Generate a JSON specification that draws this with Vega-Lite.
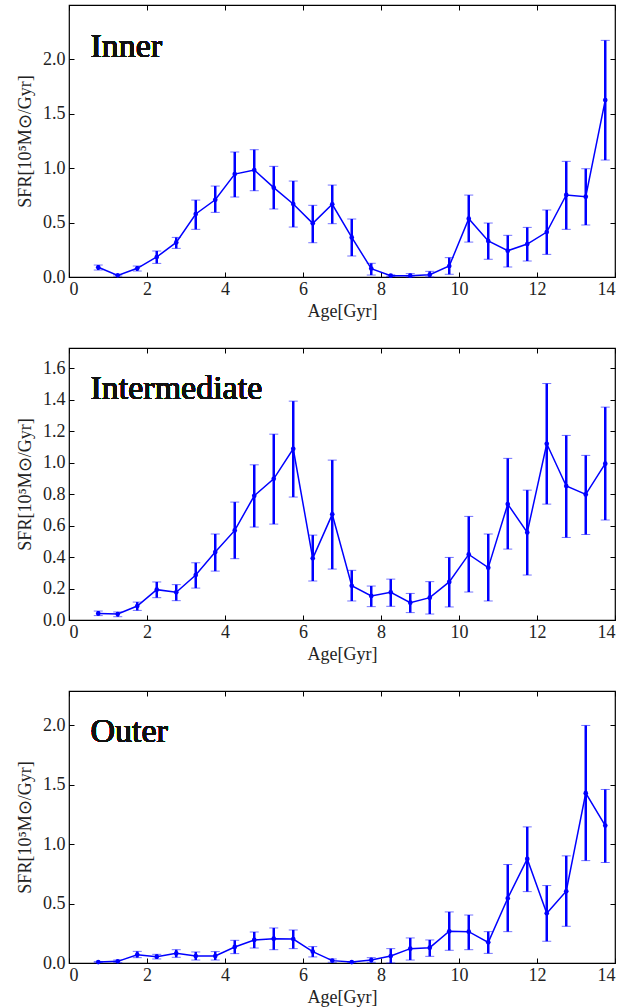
{
  "$schema": "https://vega.github.io/schema/vega-lite/v6.json",
  "autosize": {"type": "pad"},
  "padding": {"left": 15, "top": 3, "right": 26, "bottom": 0},
  "background": "white",
  "config": {
    "font": "Liberation Serif",
    "view": {"stroke": "#000000", "strokeWidth": 1.2},
    "axis": {
      "labelFont": "Liberation Serif",
      "labelFontSize": 18,
      "labelColor": "#222222",
      "titleFont": "Liberation Serif",
      "titleFontSize": 18,
      "titleFontWeight": "normal",
      "titleColor": "#222222",
      "grid": false,
      "domain": false,
      "tickColor": "#000000",
      "tickSize": -5,
      "tickWidth": 1
    }
  },
  "bounds": "flush",
  "spacing": 71,
  "datasets": {
    "sfr": [
      {"region": "Inner", "age": 0.75, "sfr": 0.089, "lo": 0.064, "hi": 0.110},
      {"region": "Inner", "age": 1.25, "sfr": 0.015, "lo": 0.008, "hi": 0.022},
      {"region": "Inner", "age": 1.75, "sfr": 0.080, "lo": 0.055, "hi": 0.101},
      {"region": "Inner", "age": 2.25, "sfr": 0.184, "lo": 0.125, "hi": 0.239},
      {"region": "Inner", "age": 2.75, "sfr": 0.318, "lo": 0.263, "hi": 0.364},
      {"region": "Inner", "age": 3.25, "sfr": 0.579, "lo": 0.438, "hi": 0.707},
      {"region": "Inner", "age": 3.75, "sfr": 0.710, "lo": 0.594, "hi": 0.836},
      {"region": "Inner", "age": 4.25, "sfr": 0.946, "lo": 0.735, "hi": 1.149},
      {"region": "Inner", "age": 4.75, "sfr": 0.983, "lo": 0.793, "hi": 1.170},
      {"region": "Inner", "age": 5.25, "sfr": 0.821, "lo": 0.625, "hi": 1.017},
      {"region": "Inner", "age": 5.75, "sfr": 0.671, "lo": 0.459, "hi": 0.882},
      {"region": "Inner", "age": 6.25, "sfr": 0.493, "lo": 0.315, "hi": 0.659},
      {"region": "Inner", "age": 6.75, "sfr": 0.668, "lo": 0.490, "hi": 0.845},
      {"region": "Inner", "age": 7.25, "sfr": 0.364, "lo": 0.193, "hi": 0.533},
      {"region": "Inner", "age": 7.75, "sfr": 0.077, "lo": 0.018, "hi": 0.126},
      {"region": "Inner", "age": 8.25, "sfr": 0.012, "lo": 0.005, "hi": 0.020},
      {"region": "Inner", "age": 8.75, "sfr": 0.012, "lo": 0.000, "hi": 0.031},
      {"region": "Inner", "age": 9.25, "sfr": 0.021, "lo": 0.000, "hi": 0.052},
      {"region": "Inner", "age": 9.75, "sfr": 0.101, "lo": 0.025, "hi": 0.178},
      {"region": "Inner", "age": 10.25, "sfr": 0.536, "lo": 0.321, "hi": 0.753},
      {"region": "Inner", "age": 10.75, "sfr": 0.331, "lo": 0.163, "hi": 0.496},
      {"region": "Inner", "age": 11.25, "sfr": 0.242, "lo": 0.092, "hi": 0.383},
      {"region": "Inner", "age": 11.75, "sfr": 0.303, "lo": 0.147, "hi": 0.456},
      {"region": "Inner", "age": 12.25, "sfr": 0.413, "lo": 0.208, "hi": 0.616},
      {"region": "Inner", "age": 12.75, "sfr": 0.754, "lo": 0.438, "hi": 1.063},
      {"region": "Inner", "age": 13.25, "sfr": 0.738, "lo": 0.478, "hi": 0.995},
      {"region": "Inner", "age": 13.75, "sfr": 1.626, "lo": 1.075, "hi": 2.175},

      {"region": "Intermediate", "age": 0.75, "sfr": 0.042, "lo": 0.028, "hi": 0.057},
      {"region": "Intermediate", "age": 1.25, "sfr": 0.038, "lo": 0.021, "hi": 0.051},
      {"region": "Intermediate", "age": 1.75, "sfr": 0.089, "lo": 0.061, "hi": 0.114},
      {"region": "Intermediate", "age": 2.25, "sfr": 0.193, "lo": 0.142, "hi": 0.242},
      {"region": "Intermediate", "age": 2.75, "sfr": 0.176, "lo": 0.123, "hi": 0.225},
      {"region": "Intermediate", "age": 3.25, "sfr": 0.286, "lo": 0.203, "hi": 0.364},
      {"region": "Intermediate", "age": 3.75, "sfr": 0.432, "lo": 0.311, "hi": 0.547},
      {"region": "Intermediate", "age": 4.25, "sfr": 0.570, "lo": 0.390, "hi": 0.750},
      {"region": "Intermediate", "age": 4.75, "sfr": 0.790, "lo": 0.591, "hi": 0.987},
      {"region": "Intermediate", "age": 5.25, "sfr": 0.898, "lo": 0.610, "hi": 1.182},
      {"region": "Intermediate", "age": 5.75, "sfr": 1.089, "lo": 0.782, "hi": 1.392},
      {"region": "Intermediate", "age": 6.25, "sfr": 0.392, "lo": 0.248, "hi": 0.540},
      {"region": "Intermediate", "age": 6.75, "sfr": 0.672, "lo": 0.324, "hi": 1.017},
      {"region": "Intermediate", "age": 7.25, "sfr": 0.218, "lo": 0.121, "hi": 0.316},
      {"region": "Intermediate", "age": 7.75, "sfr": 0.153, "lo": 0.085, "hi": 0.216},
      {"region": "Intermediate", "age": 8.25, "sfr": 0.176, "lo": 0.087, "hi": 0.260},
      {"region": "Intermediate", "age": 8.75, "sfr": 0.110, "lo": 0.047, "hi": 0.169},
      {"region": "Intermediate", "age": 9.25, "sfr": 0.142, "lo": 0.038, "hi": 0.244},
      {"region": "Intermediate", "age": 9.75, "sfr": 0.242, "lo": 0.083, "hi": 0.398},
      {"region": "Intermediate", "age": 10.25, "sfr": 0.417, "lo": 0.178, "hi": 0.659},
      {"region": "Intermediate", "age": 10.75, "sfr": 0.333, "lo": 0.121, "hi": 0.547},
      {"region": "Intermediate", "age": 11.25, "sfr": 0.737, "lo": 0.451, "hi": 1.028},
      {"region": "Intermediate", "age": 11.75, "sfr": 0.557, "lo": 0.286, "hi": 0.826},
      {"region": "Intermediate", "age": 12.25, "sfr": 1.121, "lo": 0.737, "hi": 1.504},
      {"region": "Intermediate", "age": 12.75, "sfr": 0.852, "lo": 0.525, "hi": 1.174},
      {"region": "Intermediate", "age": 13.25, "sfr": 0.799, "lo": 0.544, "hi": 1.047},
      {"region": "Intermediate", "age": 13.75, "sfr": 0.994, "lo": 0.636, "hi": 1.354},

      {"region": "Outer", "age": 0.75, "sfr": 0.008, "lo": 0.003, "hi": 0.013},
      {"region": "Outer", "age": 1.25, "sfr": 0.014, "lo": 0.003, "hi": 0.025},
      {"region": "Outer", "age": 1.75, "sfr": 0.070, "lo": 0.045, "hi": 0.098},
      {"region": "Outer", "age": 2.25, "sfr": 0.053, "lo": 0.034, "hi": 0.073},
      {"region": "Outer", "age": 2.75, "sfr": 0.081, "lo": 0.048, "hi": 0.112},
      {"region": "Outer", "age": 3.25, "sfr": 0.059, "lo": 0.025, "hi": 0.093},
      {"region": "Outer", "age": 3.75, "sfr": 0.059, "lo": 0.025, "hi": 0.096},
      {"region": "Outer", "age": 4.25, "sfr": 0.135, "lo": 0.079, "hi": 0.191},
      {"region": "Outer", "age": 4.75, "sfr": 0.194, "lo": 0.126, "hi": 0.261},
      {"region": "Outer", "age": 5.25, "sfr": 0.205, "lo": 0.112, "hi": 0.295},
      {"region": "Outer", "age": 5.75, "sfr": 0.202, "lo": 0.121, "hi": 0.278},
      {"region": "Outer", "age": 6.25, "sfr": 0.096, "lo": 0.051, "hi": 0.138},
      {"region": "Outer", "age": 6.75, "sfr": 0.020, "lo": 0.006, "hi": 0.034},
      {"region": "Outer", "age": 7.25, "sfr": 0.008, "lo": 0.003, "hi": 0.013},
      {"region": "Outer", "age": 7.75, "sfr": 0.025, "lo": 0.006, "hi": 0.045},
      {"region": "Outer", "age": 8.25, "sfr": 0.059, "lo": 0.000, "hi": 0.121},
      {"region": "Outer", "age": 8.75, "sfr": 0.121, "lo": 0.025, "hi": 0.211},
      {"region": "Outer", "age": 9.25, "sfr": 0.129, "lo": 0.056, "hi": 0.194},
      {"region": "Outer", "age": 9.75, "sfr": 0.267, "lo": 0.107, "hi": 0.430},
      {"region": "Outer", "age": 10.25, "sfr": 0.264, "lo": 0.112, "hi": 0.404},
      {"region": "Outer", "age": 10.75, "sfr": 0.174, "lo": 0.081, "hi": 0.264},
      {"region": "Outer", "age": 11.25, "sfr": 0.545, "lo": 0.264, "hi": 0.829},
      {"region": "Outer", "age": 11.75, "sfr": 0.876, "lo": 0.601, "hi": 1.146},
      {"region": "Outer", "age": 12.25, "sfr": 0.419, "lo": 0.183, "hi": 0.652},
      {"region": "Outer", "age": 12.75, "sfr": 0.604, "lo": 0.309, "hi": 0.902},
      {"region": "Outer", "age": 13.25, "sfr": 1.430, "lo": 0.862, "hi": 2.000},
      {"region": "Outer", "age": 13.75, "sfr": 1.157, "lo": 0.846, "hi": 1.461}
    ]
  },
  "vconcat": [
    {
      "width": 546, "height": 272,
      "data": {"name": "sfr"},
      "transform": [{"filter": "datum.region === 'Inner'"}],
      "resolve": {"axis": {"x": "independent", "y": "independent"}},
      "layer": [
        {
          "mark": {"type": "rule", "color": "#0000ff", "strokeWidth": 2.5},
          "encoding": {
            "x": {"field": "age", "type": "quantitative", "scale": {"domain": [0, 14], "nice": false}, "axis": {"values": [0,2,4,6,8,10,12,14], "title": "Age[Gyr]", "labelPadding": 8, "titlePadding": 4}},
            "y": {"field": "lo", "type": "quantitative", "scale": {"domain": [0, 2.5], "nice": false, "zero": false}, "axis": {"values": [0,0.5,1,1.5,2], "format": ".1f", "title": "SFR[10⁵M⊙/Gyr]", "labelPadding": 9, "titlePadding": 8}},
            "y2": {"field": "hi"}
          }
        },
        {
          "mark": {"type": "tick", "color": "#0000ff", "orient": "horizontal", "size": 9, "thickness": 1, "opacity": 0.55},
          "encoding": {"x": {"field": "age", "type": "quantitative", "axis": {"orient": "top", "values": [0,2,4,6,8,10,12,14], "labels": false, "title": null}}, "y": {"field": "lo", "type": "quantitative", "axis": {"orient": "right", "values": [0,0.5,1,1.5,2], "labels": false, "title": null}}}
        },
        {
          "mark": {"type": "tick", "color": "#0000ff", "orient": "horizontal", "size": 9, "thickness": 1, "opacity": 0.55},
          "encoding": {"x": {"field": "age", "type": "quantitative", "axis": null}, "y": {"field": "hi", "type": "quantitative", "axis": null}}
        },
        {
          "mark": {"type": "line", "color": "#0000ff", "strokeWidth": 1.5, "point": {"filled": true, "color": "#0000ff", "size": 22}},
          "encoding": {"x": {"field": "age", "type": "quantitative", "axis": null}, "y": {"field": "sfr", "type": "quantitative", "axis": null}}
        },
        {
          "mark": {"type": "text", "text": "Inner", "fontSize": 34, "font": "Liberation Serif", "align": "left", "baseline": "alphabetic", "color": "#111111"},
          "encoding": {"x": {"datum": 0.55, "type": "quantitative", "axis": null}, "y": {"datum": 2.02, "type": "quantitative", "axis": null}}
        }
      ]
    },
    {
      "width": 546, "height": 272,
      "data": {"name": "sfr"},
      "transform": [{"filter": "datum.region === 'Intermediate'"}],
      "resolve": {"axis": {"x": "independent", "y": "independent"}},
      "layer": [
        {
          "mark": {"type": "rule", "color": "#0000ff", "strokeWidth": 2.5},
          "encoding": {
            "x": {"field": "age", "type": "quantitative", "scale": {"domain": [0, 14], "nice": false}, "axis": {"values": [0,2,4,6,8,10,12,14], "title": "Age[Gyr]", "labelPadding": 8, "titlePadding": 4}},
            "y": {"field": "lo", "type": "quantitative", "scale": {"domain": [0, 1.73], "nice": false, "zero": false}, "axis": {"values": [0,0.2,0.4,0.6,0.8,1,1.2,1.4,1.6], "format": ".1f", "title": "SFR[10⁵M⊙/Gyr]", "labelPadding": 9, "titlePadding": 8}},
            "y2": {"field": "hi"}
          }
        },
        {
          "mark": {"type": "tick", "color": "#0000ff", "orient": "horizontal", "size": 9, "thickness": 1, "opacity": 0.55},
          "encoding": {"x": {"field": "age", "type": "quantitative", "axis": {"orient": "top", "values": [0,2,4,6,8,10,12,14], "labels": false, "title": null}}, "y": {"field": "lo", "type": "quantitative", "axis": {"orient": "right", "values": [0,0.2,0.4,0.6,0.8,1,1.2,1.4,1.6], "labels": false, "title": null}}}
        },
        {
          "mark": {"type": "tick", "color": "#0000ff", "orient": "horizontal", "size": 9, "thickness": 1, "opacity": 0.55},
          "encoding": {"x": {"field": "age", "type": "quantitative", "axis": null}, "y": {"field": "hi", "type": "quantitative", "axis": null}}
        },
        {
          "mark": {"type": "line", "color": "#0000ff", "strokeWidth": 1.5, "point": {"filled": true, "color": "#0000ff", "size": 22}},
          "encoding": {"x": {"field": "age", "type": "quantitative", "axis": null}, "y": {"field": "sfr", "type": "quantitative", "axis": null}}
        },
        {
          "mark": {"type": "text", "text": "Intermediate", "fontSize": 34, "font": "Liberation Serif", "align": "left", "baseline": "alphabetic", "color": "#111111"},
          "encoding": {"x": {"datum": 0.55, "type": "quantitative", "axis": null}, "y": {"datum": 1.405, "type": "quantitative", "axis": null}}
        }
      ]
    },
    {
      "width": 546, "height": 272,
      "data": {"name": "sfr"},
      "transform": [{"filter": "datum.region === 'Outer'"}],
      "resolve": {"axis": {"x": "independent", "y": "independent"}},
      "layer": [
        {
          "mark": {"type": "rule", "color": "#0000ff", "strokeWidth": 2.5},
          "encoding": {
            "x": {"field": "age", "type": "quantitative", "scale": {"domain": [0, 14], "nice": false}, "axis": {"values": [0,2,4,6,8,10,12,14], "title": "Age[Gyr]", "labelPadding": 8, "titlePadding": 4}},
            "y": {"field": "lo", "type": "quantitative", "scale": {"domain": [0, 2.29], "nice": false, "zero": false}, "axis": {"values": [0,0.5,1,1.5,2], "format": ".1f", "title": "SFR[10⁵M⊙/Gyr]", "labelPadding": 9, "titlePadding": 8}},
            "y2": {"field": "hi"}
          }
        },
        {
          "mark": {"type": "tick", "color": "#0000ff", "orient": "horizontal", "size": 9, "thickness": 1, "opacity": 0.55},
          "encoding": {"x": {"field": "age", "type": "quantitative", "axis": {"orient": "top", "values": [0,2,4,6,8,10,12,14], "labels": false, "title": null}}, "y": {"field": "lo", "type": "quantitative", "axis": {"orient": "right", "values": [0,0.5,1,1.5,2], "labels": false, "title": null}}}
        },
        {
          "mark": {"type": "tick", "color": "#0000ff", "orient": "horizontal", "size": 9, "thickness": 1, "opacity": 0.55},
          "encoding": {"x": {"field": "age", "type": "quantitative", "axis": null}, "y": {"field": "hi", "type": "quantitative", "axis": null}}
        },
        {
          "mark": {"type": "line", "color": "#0000ff", "strokeWidth": 1.5, "point": {"filled": true, "color": "#0000ff", "size": 22}},
          "encoding": {"x": {"field": "age", "type": "quantitative", "axis": null}, "y": {"field": "sfr", "type": "quantitative", "axis": null}}
        },
        {
          "mark": {"type": "text", "text": "Outer", "fontSize": 34, "font": "Liberation Serif", "align": "left", "baseline": "alphabetic", "color": "#111111"},
          "encoding": {"x": {"datum": 0.55, "type": "quantitative", "axis": null}, "y": {"datum": 1.86, "type": "quantitative", "axis": null}}
        }
      ]
    }
  ]
}
